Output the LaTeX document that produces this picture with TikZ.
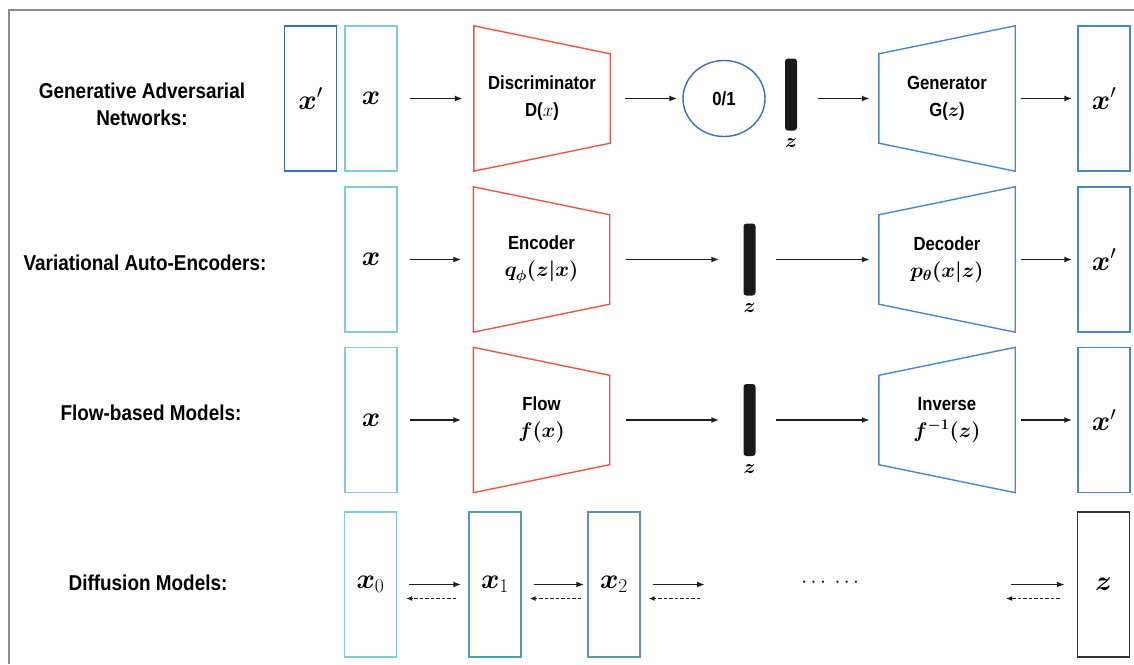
\RequirePackage{fix-cm}
\documentclass[tikz,border=0pt]{standalone}
\usepackage[no-math]{fontspec}
\setmainfont{Liberation Sans}[FakeStretch=0.88]
\usepackage{amsmath,bm}
\usetikzlibrary{arrows.meta,positioning,shapes.geometric}

\definecolor{boxblue}{RGB}{60,108,190}
\definecolor{genblue}{RGB}{74,134,206}
\definecolor{aqua}{RGB}{128,204,212}
\definecolor{tealmid}{RGB}{78,160,172}
\definecolor{tealdark}{RGB}{92,150,164}
\definecolor{discred}{RGB}{240,84,72}
\definecolor{arrowgray}{RGB}{30,30,30}
\definecolor{framegray}{RGB}{140,140,140}

\tikzset{
  vec/.style={draw, line width=1.4pt, minimum width=52pt, minimum height=145pt,
    inner sep=0pt, font=\fontsize{28}{30}\selectfont},
  net/.style={minimum width=136pt, minimum height=145pt, inner sep=0pt,
    align=center, font=\bfseries\fontsize{19}{27}\selectfont},
  latent/.style={fill=black!90, rounded corners=3pt, minimum width=12pt,
    minimum height=72pt, inner sep=0pt},
  zlab/.style={font=\fontsize{20}{20}\selectfont, inner sep=0pt},
  rowlab/.style={align=center, font=\bfseries\fontsize{21.5}{27}\selectfont},
  arr/.style={draw=arrowgray, line width=1.7pt, -{Latex[length=8pt,width=6pt]}},
  back/.style={draw=arrowgray, line width=1.4pt, dash pattern=on 3.5pt off 2pt,
    -{Latex[length=6pt,width=5pt]}},
}

% trapezoids drawn on the frame of a net node
\newcommand{\narrowing}[2]{\draw[#2, line width=1.4pt] (#1.north west) -- ([yshift=-28pt]#1.north east)
  -- ([yshift=28pt]#1.south east) -- (#1.south west) -- cycle;}
\newcommand{\widening}[2]{\draw[#2, line width=1.4pt] ([yshift=-28pt]#1.north west) -- (#1.north east)
  -- (#1.south east) -- ([yshift=28pt]#1.south west) -- cycle;}

\begin{document}
\begin{tikzpicture}[x=1pt, y=-1pt]
  \useasboundingbox (0,0) rectangle (1134,664);
  \draw[framegray, line width=1.5pt] (9,664) -- (9,10) -- (1134,10);

  % -- Row labels --
  \node[rowlab] (lgan) at (142,104) {Generative Adversarial\\Networks:};
  \node[rowlab] (lvae) at (145,263) {Variational Auto-Encoders:};
  \node[rowlab] (lflow) at (151,413) {Flow-based Models:};
  \node[rowlab] (ldiff) at (148,583) {Diffusion Models:};

  % -- GAN --
  \node[vec, draw=boxblue] (fakeL) at (310.5,98.5) {$\bm{x}'$};
  \node[vec, draw=aqua] (realA) at (371,98.5) {$\bm{x}$};
  \node[net] (disc) at (542,98.5) {Discriminator\\D($x$)};
  \narrowing{disc}{discred}
  \node[ellipse, draw=boxblue, line width=1.4pt, minimum width=82pt, minimum height=76pt,
    inner sep=0pt, font=\bfseries\fontsize{19}{20}\selectfont] (prob) at (724,98.5) {0/1};
  \node[latent] (zA) at (791,94.5) {};
  \node[zlab, below=8pt of zA] (zAl) {$\bm{z}$};
  \node[net] (gen) at (947,98.5) {Generator\\G($\bm{z}$)};
  \widening{gen}{genblue}
  \node[vec, draw=genblue] (fakeA) at (1104,98.5) {$\bm{x}'$};

  \draw[arr, shorten <=12pt, shorten >=11pt] (realA) -- (disc);
  \draw[arr, shorten <=15pt, shorten >=5pt] (disc) -- (prob);
  \draw[arr, shorten <=21pt, shorten >=9pt] (zA.east |- gen) -- (gen);
  \draw[arr, shorten <=6pt, shorten >=5pt] (gen) -- (fakeA);

  % -- VAE --
  \node[vec, draw=aqua] (realB) at (371,259.5) {$\bm{x}$};
  \node[net] (enc) at (541.5,259.5) {Encoder\\{\boldmath\fontsize{21}{27}\selectfont$q_{\phi}(z|x)$}};
  \narrowing{enc}{discred}
  \node[latent] (zB) at (749.5,259.5) {};
  \node[zlab, below=8pt of zB] (zBl) {$\bm{z}$};
  \node[net] (dec) at (947,259.5) {Decoder\\{\boldmath\fontsize{21}{27}\selectfont$p_{\theta}(x|z)$}};
  \widening{dec}{genblue}
  \node[vec, draw=genblue] (fakeB) at (1104,259.5) {$\bm{x}'$};

  \draw[arr, shorten <=12pt, shorten >=12pt] (realB) -- (enc);
  \draw[arr, shorten <=16pt, shorten >=24pt] (enc) -- (zB);
  \draw[arr, shorten <=20pt, shorten >=9pt] (zB) -- (dec);
  \draw[arr, shorten <=6pt, shorten >=5pt] (dec) -- (fakeB);

  % -- Flow --
  \node[vec, draw=aqua] (realC) at (371,420) {$\bm{x}$};
  \node[net] (flow) at (541.5,420) {Flow\\{\boldmath\fontsize{21}{27}\selectfont$f(x)$}};
  \narrowing{flow}{discred}
  \node[latent] (zC) at (749.5,420) {};
  \node[zlab, below=8pt of zC] (zCl) {$\bm{z}$};
  \node[net] (inv) at (947,420) {Inverse\\{\boldmath\fontsize{21}{27}\selectfont$f^{-1}(z)$}};
  \widening{inv}{genblue}
  \node[vec, draw=genblue] (fakeC) at (1104,420) {$\bm{x}'$};

  \draw[arr, shorten <=12pt, shorten >=12pt] (realC) -- (flow);
  \draw[arr, shorten <=16pt, shorten >=24pt] (flow) -- (zC);
  \draw[arr, shorten <=20pt, shorten >=9pt] (zC) -- (inv);
  \draw[arr, shorten <=6pt, shorten >=5pt] (inv) -- (fakeC);

  % -- Diffusion --
  \node[vec, draw=aqua] (d0) at (370.5,584.5) {$\bm{x}_0$};
  \node[vec, draw=tealmid] (d1) at (495,584.5) {$\bm{x}_1$};
  \node[vec, draw=tealdark] (d2) at (614,584.5) {$\bm{x}_2$};
  \node[vec, draw=black!80] (dz) at (1103.5,584.5) {$\bm{z}$};
  \coordinate (gapL) at (705,584.5);
  \coordinate (gapR) at (1006,584.5);
  \node[anchor=base, font=\fontsize{21}{21}\selectfont] (dots) at (832,587) {$\cdots\ \cdots$};

  \draw[arr, shorten <=12pt, shorten >=7pt] (d0) -- (d1);
  \draw[back, shorten <=12pt, shorten >=9pt] ([yshift=-14pt]d1.west) -- ([yshift=-14pt]d0.east);
  \draw[arr, shorten <=12pt, shorten >=3pt] (d1) -- (d2);
  \draw[back, shorten <=6pt, shorten >=8pt] ([yshift=-14pt]d2.west) -- ([yshift=-14pt]d1.east);
  \draw[arr, shorten <=12pt] (d2) -- (gapL);
  \draw[back, shorten <=5pt, shorten >=8pt] ([yshift=-14pt]gapL) -- ([yshift=-14pt]d2.east);
  \draw[arr, shorten <=5pt, shorten >=12pt] (gapR) -- (dz);
  \draw[back, shorten <=17pt] ([yshift=-14pt]dz.west) -- ([yshift=-14pt]gapR);
\end{tikzpicture}
\end{document}
